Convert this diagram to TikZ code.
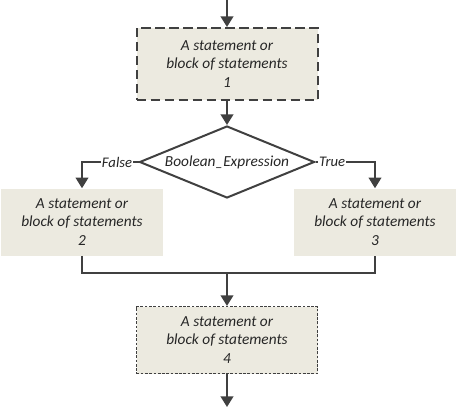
\documentclass[tikz,border=0pt]{standalone}
\usepackage{fontspec}
\setmainfont{Carlito}[ItalicFont={Carlito Italic}]
\usepackage{tikz}
\usetikzlibrary{shapes.geometric,arrows.meta,positioning,calc}
\definecolor{boxfill}{RGB}{236,234,224}
\definecolor{linegray}{RGB}{64,64,64}
\definecolor{textgray}{RGB}{38,38,38}

\begin{document}
\begin{tikzpicture}[
    x=0.75pt, y=-0.75pt,
    node distance=18pt,
    stmt/.style={rectangle, fill=boxfill, minimum width=121.5pt, minimum height=50.25pt, align=center, text=textgray, font=\itshape\fontsize{11.5}{14}\selectfont},
    dashbox/.style={stmt, draw=linegray, line width=1.5pt, dash pattern=on 7pt off 3.5pt, minimum width=135.75pt, minimum height=54pt},
    dotbox/.style={stmt, draw=linegray, line width=0.8pt, dash pattern=on 2pt off 1.2pt, minimum width=135.75pt, minimum height=50.25pt},
    cond/.style={diamond, aspect=2.43, draw=linegray, line width=1.5pt, fill=white, inner sep=0pt, minimum width=131.25pt, minimum height=54pt, text=textgray, font=\itshape\fontsize{11.5}{14}\selectfont},
    line/.style={draw=linegray, line width=1.5pt},
    arrow/.style={line, -{Triangle[length=8pt,width=9.5pt]}},
    tag/.style={fill=white, inner sep=0.5pt, text=textgray, font=\itshape\fontsize{11}{13}\selectfont}
]
    \useasboundingbox (0,0) rectangle (458,407);

    \coordinate (start) at (227,0);
    \node[dashbox] (stmt1) at (227,64) {A statement or\\block of statements\\1};
    \node[cond, below=18pt of stmt1] (test) {Boolean\_Expression};
    \node[stmt] (stmt2) at (82,222) {A statement or\\block of statements\\2};
    \node[stmt] (stmt3) at (375,222) {A statement or\\block of statements\\3};
    \coordinate (join) at (227,273);
    \node[dotbox] (stmt4) at (227,340) {A statement or\\block of statements\\4};
    \coordinate (stop) at (227,407);

    \draw[arrow] (start) -- (stmt1);
    \draw[arrow] (stmt1) -- (test);
    \draw[arrow] (test.west) -- node[tag, pos=0.38] {False} (test.west -| stmt2) -- (stmt2);
    \draw[arrow] (test.east) -- node[tag, pos=0.28] {True} (test.east -| stmt3) -- (stmt3);
    \draw[line] (stmt2.south) |- (join) -| (stmt3.south);
    \draw[arrow] (join) -- (stmt4);
    \draw[arrow] (stmt4) -- (stop);
\end{tikzpicture}
\end{document}
